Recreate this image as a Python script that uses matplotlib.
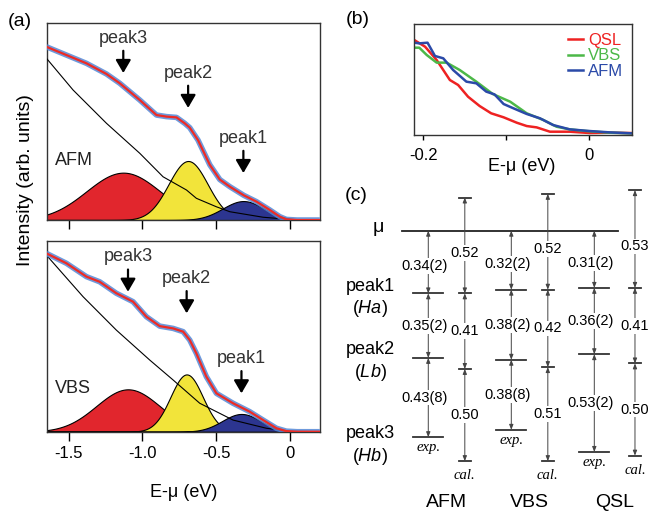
import numpy as np
import matplotlib
matplotlib.use("Agg")
import matplotlib.pyplot as plt

plt.rcParams["font.family"] = ["Liberation Sans", "DejaVu Sans"]
plt.rcParams["mathtext.fontset"] = "custom"
plt.rcParams["mathtext.rm"] = "Liberation Sans"
plt.rcParams["mathtext.it"] = "Liberation Sans:italic"

# ---------------- panel (a) data: measured spectra, backgrounds, peak fits
AFM_E = [-1.652, -1.516, -1.380, -1.244, -1.154, -1.018, -0.905, -0.837, -0.769,
         -0.713, -0.679, -0.623, -0.543, -0.475, -0.407, -0.312, -0.226, -0.136,
         -0.068, -0.023, 0.050, 0.204]
AFM_I = [0.878, 0.836, 0.794, 0.740, 0.693, 0.608, 0.532, 0.524, 0.520,
         0.490, 0.468, 0.405, 0.280, 0.205, 0.169, 0.125, 0.093, 0.051,
         0.017, 0.003, 0.0, 0.0]
AFM_BG_E = [-1.652, -1.471, -1.244, -1.018, -0.860, -0.701, -0.634, -0.498,
            -0.407, -0.181, 0.0, 0.204]
AFM_BG_I = [0.820, 0.659, 0.490, 0.338, 0.219, 0.152, 0.110, 0.067,
            0.042, 0.014, 0.003, 0.0]

VBS_E = [-1.652, -1.516, -1.380, -1.290, -1.177, -1.064, -0.973, -0.883, -0.792,
         -0.724, -0.679, -0.634, -0.566, -0.498, -0.385, -0.272, -0.181, -0.090,
         -0.023, 0.050, 0.204]
VBS_I = [0.934, 0.882, 0.812, 0.785, 0.725, 0.681, 0.602, 0.553, 0.541,
         0.524, 0.480, 0.410, 0.288, 0.201, 0.149, 0.105, 0.061, 0.018,
         0.003, 0.0, 0.0]
VBS_BG_E = [-1.652, -1.403, -1.177, -0.950, -0.792, -0.611, -0.385, -0.158, 0.0, 0.204]
VBS_BG_I = [0.925, 0.707, 0.532, 0.375, 0.271, 0.149, 0.061, 0.018, 0.003, 0.0]

# Gaussian components (peak3, peak2, peak1): centre, height, sigma
AFM_CENTER = [-1.13, -0.69, -0.315]
AFM_HEIGHT = [0.240, 0.299, 0.096]
AFM_SIGMA = [0.25, 0.133, 0.14]
VBS_CENTER = [-1.098, -0.70, -0.328]
VBS_HEIGHT = [0.222, 0.300, 0.093]
VBS_SIGMA = [0.215, 0.11, 0.13]

PEAK_NAMES = ["peak3", "peak2", "peak1"]
AFM_TIP = [0.745, 0.568, 0.238]
VBS_TIP = [0.733, 0.620, 0.201]

A_TICKS = [-1.5, -1.0, -0.5, 0.0]
A_TICK_LABELS = ["-1.5", "-1.0", "-0.5", "0"]

# ---------------- panel (b) data
B_QSL_E = [-0.211, -0.198, -0.184, -0.168, -0.158, -0.146, -0.132, -0.118, -0.103,
           -0.087, -0.075, -0.063, -0.047, -0.023, 0.001, 0.025, 0.052]
B_QSL_I = [0.858, 0.798, 0.678, 0.497, 0.452, 0.346, 0.262, 0.196, 0.160,
           0.111, 0.081, 0.069, 0.030, 0.030, 0.018, 0.021, 0.018]
B_VBS_E = [-0.211, -0.205, -0.196, -0.184, -0.172, -0.156, -0.136, -0.116, -0.095,
           -0.075, -0.055, -0.039, -0.023, -0.003, 0.025, 0.052]
B_VBS_I = [0.789, 0.789, 0.723, 0.654, 0.654, 0.587, 0.482, 0.370, 0.301,
           0.196, 0.136, 0.075, 0.051, 0.036, 0.021, 0.015]
B_AFM_E = [-0.211, -0.205, -0.195, -0.186, -0.176, -0.164, -0.148, -0.136, -0.124,
           -0.114, -0.103, -0.091, -0.075, -0.059, -0.043, -0.023, 0.001, 0.025, 0.052]
B_AFM_I = [0.834, 0.828, 0.834, 0.714, 0.693, 0.587, 0.482, 0.467, 0.392,
           0.367, 0.280, 0.241, 0.190, 0.151, 0.090, 0.051, 0.036, 0.024, 0.015]
B_TICKS = [-0.2, -0.1, 0.0]
B_TICK_LABELS = ["-0.2", "", "0"]

# ---------------- panel (c) data: level spacings (eV)
SCHEMES = ["AFM", "VBS", "QSL"]
EXP_GAPS = [[0.34, 0.35, 0.43], [0.32, 0.38, 0.38], [0.31, 0.36, 0.53]]
EXP_ERR = [["2", "2", "8"], ["2", "2", "8"], ["2", "2", "2"]]
CAL_GAPS = [[0.52, 0.41, 0.50], [0.52, 0.42, 0.51], [0.53, 0.41, 0.50]]
CAL_DX = [0.44, 0.44, 0.49]

RED = "#e1262d"
YELLOW = "#f2e43a"
NAVY = "#2c3590"
FIT_RED = "#ee2b24"
DATA_BLUE = "#5588d6"


def gauss(e, c, h, w):
    return h * np.exp(-(e - c) ** 2 / (2 * w ** 2))


def draw_spectrum(ax, e, i, bg_e, bg_i, centers, heights, sigmas, tips, tag, tag_y):
    grid = np.linspace(-1.66, 0.21, 500)
    for c, h, w, col in zip(centers, heights, sigmas, [RED, YELLOW, NAVY]):
        ax.fill_between(grid, 0, gauss(grid, c, h, w), facecolor=col,
                        edgecolor="black", lw=0.8, zorder=2)
    ax.plot(bg_e, bg_i, color="black", lw=0.8, zorder=3)
    ax.plot(e, i, color=DATA_BLUE, lw=4.0, alpha=0.85, zorder=4,
            solid_capstyle="butt")
    ax.plot(e, i, color=FIT_RED, lw=1.6, zorder=5)
    for name, c, tip in zip(PEAK_NAMES, centers, tips):
        ax.annotate(name, xy=(c, tip), xytext=(0, 19), textcoords="offset points",
                    ha="center", va="bottom", fontsize=13, color="#333333",
                    arrowprops=dict(arrowstyle="-|>,head_length=0.6,head_width=0.35",
                                    color="black", lw=1.6, shrinkA=1, shrinkB=0))
    ax.text(0.03, tag_y, tag, transform=ax.transAxes, fontsize=13,
            ha="left", va="center", color="#222222")
    ax.set_xlim(-1.65, 0.205)
    ax.set_ylim(0, 1)
    ax.set_yticks([])
    ax.set_xticks(A_TICKS)
    ax.tick_params(axis="x", direction="out", length=6.5, width=1,
                   labelsize=12, pad=4)
    for sp in ax.spines.values():
        sp.set_color("#333333")
        sp.set_linewidth(1.0)


fig = plt.figure(figsize=(6.5, 5.12), dpi=100)

# panel (a)
ax_top = fig.add_axes([0.0718, 0.5703, 0.4205, 0.3854])
ax_bot = fig.add_axes([0.0718, 0.1568, 0.4205, 0.3730])
draw_spectrum(ax_top, AFM_E, AFM_I, AFM_BG_E, AFM_BG_I,
              AFM_CENTER, AFM_HEIGHT, AFM_SIGMA, AFM_TIP, "AFM", 0.30)
draw_spectrum(ax_bot, VBS_E, VBS_I, VBS_BG_E, VBS_BG_I,
              VBS_CENTER, VBS_HEIGHT, VBS_SIGMA, VBS_TIP, "VBS", 0.227)
ax_top.set_xticklabels([])
ax_bot.set_xticklabels(A_TICK_LABELS)
ax_bot.set_xlabel("E-\u03bc (eV)", fontsize=13, labelpad=16)
fig.text(0.0385, 1 - 180 / 512, "Intensity (arb. units)", rotation=90,
         ha="center", va="center", fontsize=14)
fig.text(20 / 650, 1 - 21 / 512, "(a)", ha="center", va="center", fontsize=14)

# panel (b)
ax_b = fig.add_axes([0.6374, 0.7363, 0.3345, 0.2162])
ax_b.plot(B_QSL_E, B_QSL_I, color="#ee2222", lw=1.8, label="QSL")
ax_b.plot(B_VBS_E, B_VBS_I, color="#4cb848", lw=1.8, label="VBS")
ax_b.plot(B_AFM_E, B_AFM_I, color="#2b4aa8", lw=1.8, label="AFM")
ax_b.set_xlim(-0.211, 0.052)
ax_b.set_ylim(0, 1)
ax_b.set_yticks([])
ax_b.set_xticks(B_TICKS)
ax_b.set_xticklabels(B_TICK_LABELS)
ax_b.tick_params(axis="x", direction="out", length=3.5, width=1,
                 labelsize=12, pad=6)
for sp in ax_b.spines.values():
    sp.set_color("#333333")
    sp.set_linewidth(1.0)
leg = ax_b.legend(loc="upper right", frameon=False, fontsize=12,
                  handlelength=0.9, handletextpad=0.3, labelspacing=0.05,
                  borderaxespad=0.3, borderpad=0.2)
for txt, line in zip(leg.get_texts(), leg.get_lines()):
    txt.set_color(line.get_color())
ax_b.text(0.494, -0.286, "E-\u03bc (eV)", transform=ax_b.transAxes,
          ha="center", va="center", fontsize=13)
fig.text(358 / 650, 1 - 20 / 512, "(b)", ha="center", va="center", fontsize=14)

# panel (c)
ax_c = fig.add_axes([0.5077, 0.0, 0.4923, 0.6484])
ax_c.set_xlim(-1.184, 2.671)
ax_c.set_ylim(-1.526, 0.275)
ax_c.axis("off")

arrow_kw = dict(arrowstyle="<|-|>,head_length=0.3,head_width=0.12",
                color="#444444", lw=0.7, shrinkA=0, shrinkB=0)
box_kw = dict(facecolor="white", edgecolor="none", pad=0.6)

ax_c.plot([-0.32, 2.28], [0, 0], color="#222222", lw=1.3)

for k, name in enumerate(SCHEMES):
    xe = k
    xc = k + CAL_DX[k]
    exp_levels = [0.0]
    for g in EXP_GAPS[k]:
        exp_levels.append(exp_levels[-1] - g)
    cal_levels = [exp_levels[1] + CAL_GAPS[k][0], exp_levels[1]]
    for g in CAL_GAPS[k][1:]:
        cal_levels.append(cal_levels[-1] - g)

    for lv in exp_levels[1:]:
        ax_c.plot([xe - 0.18, xe + 0.18], [lv, lv], color="#333333", lw=1.3)
    for lv in cal_levels:
        ax_c.plot([xc - 0.075, xc + 0.075], [lv, lv], color="#333333", lw=1.3)

    for j in range(3):
        a, b = exp_levels[j], exp_levels[j + 1]
        ax_c.annotate("", xy=(xe, b), xytext=(xe, a), arrowprops=arrow_kw)
        ym = (a + b) / 2 - (0.02 if j == 0 else 0.0)
        ax_c.text(xe - 0.05, ym, f"{EXP_GAPS[k][j]:.2f}({EXP_ERR[k][j]})",
                  ha="center", va="center", fontsize=10.5, bbox=box_kw)
        a, b = cal_levels[j], cal_levels[j + 1]
        ax_c.annotate("", xy=(xc, b), xytext=(xc, a), arrowprops=arrow_kw)
        ym = (a + b) / 2 - (0.04 if j == 0 else 0.0)
        ax_c.text(xc, ym, f"{CAL_GAPS[k][j]:.2f}",
                  ha="center", va="center", fontsize=10.5, bbox=box_kw)

    ax_c.annotate("exp.", xy=(xe, exp_levels[-1]), xytext=(0, -3),
                  textcoords="offset points", ha="center", va="top",
                  fontsize=10.5, family="Liberation Serif", style="italic")
    ax_c.annotate("cal.", xy=(xc, cal_levels[-1]), xytext=(0, -6),
                  textcoords="offset points", ha="center", va="top",
                  fontsize=10.5, family="Liberation Serif", style="italic")
    ax_c.text((xe + xc) / 2, -1.477, name, ha="center", va="center", fontsize=14)

ax_c.text(-0.60, 0.02, "\u03bc", ha="center", va="center", fontsize=14)
row_labels = [("peak1", -0.304), ("($\\mathit{Ha}$)", -0.421),
              ("peak2", -0.647), ("($\\mathit{Lb}$)", -0.770),
              ("peak3", -1.099), ("($\\mathit{Hb}$)", -1.226)]
for txt, y in row_labels:
    ax_c.text(-0.70, y, txt, ha="center", va="center", fontsize=13)

fig.text(356 / 650, 1 - 195 / 512, "(c)", ha="center", va="center", fontsize=14)

fig.savefig("out.png", dpi=100)
